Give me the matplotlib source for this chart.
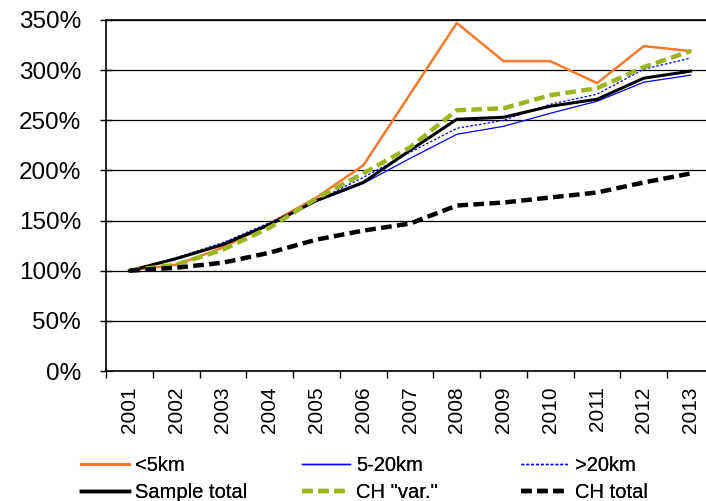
import numpy as np
import matplotlib.pyplot as plt
from matplotlib.lines import Line2D

plt.rcParams['font.family'] = ['Liberation Sans', 'DejaVu Sans']

years = [str(y) for y in range(2001, 2014)]
lt5km = [100, 106, 123, 147, 173, 205, 276, 347, 309, 309, 287, 324, 319]
km5_20 = [100, 112, 127, 147, 169, 187, 212, 236, 244, 257, 269, 288, 295]
gt20km = [100, 113, 128, 148, 170, 193, 218, 242, 250, 266, 276, 301, 312]
sample_total = [100, 112, 126, 146, 170, 188, 220, 251, 253, 264, 271, 292, 299]
ch_var = [100, 106, 121, 143, 172, 197, 223, 260, 262, 275, 282, 303, 319]
ch_total = [100, 103, 108, 118, 131, 140, 147, 165, 168, 173, 178, 188, 197]

W, H = 706, 501
fig = plt.figure(figsize=(W / 100, H / 100), dpi=100)
ax = fig.add_axes([106 / W, (H - 371) / H, 608 / W, 351 / H])

x = np.arange(len(years))
ax.plot(x, lt5km, color='#F7792B', lw=1.8, zorder=3)
ax.plot(x, km5_20, color='#0000FF', lw=0.9, zorder=3)
ax.plot(x, gt20km, color='#0000FF', lw=0.9, dashes=(2, 1.5), zorder=3)
ax.plot(x, sample_total, color='black', lw=2.2, zorder=4)
ax.plot(x, ch_var, color='#9BB51C', lw=3.2, dashes=(2.4, 1.2), zorder=5)
ax.plot(x, ch_total, color='black', lw=3.2, dashes=(2.4, 1.2), zorder=5)

ax.set_xlim(-0.5, len(years) - 0.5)
ax.set_ylim(0, 350)
ax.set_yticks(np.arange(0, 351, 50))
ax.set_yticklabels([f'{v}%' for v in range(0, 351, 50)], fontsize=17.5)
ax.yaxis.grid(True, color='black', lw=0.9)
ax.set_axisbelow(True)

ax.set_xticks(np.arange(-0.5, len(years), 1))
ax.set_xticklabels([])
ax.set_xticks(x, minor=True)
ax.set_xticklabels(years, minor=True, rotation=90, fontsize=15)
ax.tick_params(axis='x', which='major', direction='out', length=5, width=1)
ax.tick_params(axis='x', which='minor', length=0, pad=11)
ax.tick_params(axis='y', direction='inout', length=8, width=1, pad=14)

for s in ['left', 'bottom', 'top']:
    ax.spines[s].set_color('black')
    ax.spines[s].set_linewidth(1.2)
ax.spines['right'].set_visible(False)

handles = [
    Line2D([], [], color='#F7792B', lw=2.2),
    Line2D([], [], color='black', lw=2.5),
    Line2D([], [], color='#0000FF', lw=1.0),
    Line2D([], [], color='#9BB51C', lw=3.2, dashes=(2.4, 1.2)),
    Line2D([], [], color='#0000FF', lw=1.0, dashes=(2, 1.5)),
    Line2D([], [], color='black', lw=3.2, dashes=(2.4, 1.2)),
]
labels = ['<5km', 'Sample total', '5-20km', 'CH "var."', '>20km', 'CH total']
col_x = [81, 302, 521]
for i, cx in enumerate(col_x):
    leg = fig.legend(handles[2 * i:2 * i + 2], labels[2 * i:2 * i + 2],
                     loc='upper left', bbox_to_anchor=(cx / W, 1 - 456 / H),
                     frameon=False, fontsize=14.5, handlelength=2.4,
                     handletextpad=0.3, labelspacing=0.38, borderpad=0,
                     borderaxespad=0)
    fig.add_artist(leg)

fig.savefig('out.png', dpi=100)
